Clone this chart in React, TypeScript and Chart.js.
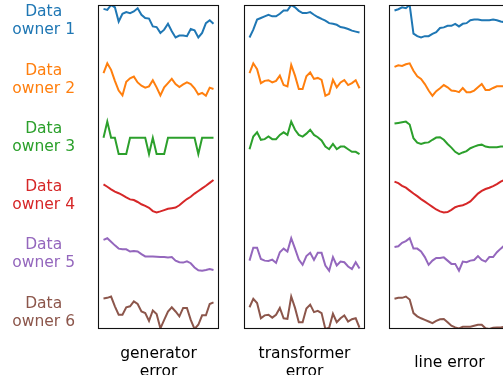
import React, { useEffect, useRef } from "react";
import { Chart, registerables } from "chart.js";

Chart.register(...registerables);

// ---------- data (each series normalised 0..1 inside its row band) ----------
const ownerLabels: string[][] = [
  ["Data", "owner 1"],
  ["Data", "owner 2"],
  ["Data", "owner 3"],
  ["Data", "owner 4"],
  ["Data", "owner 5"],
  ["Data", "owner 6"],
];
const ownerColors = ["#1f77b4", "#ff7f0e", "#2ca02c", "#d62728", "#9467bd", "#8c564b"];
const panelTitles: (string | string[])[] = [["generator", "error"], ["transformer", "error"], "line error"];

// generator error
const genOwner1 = [0.88, 0.85, 1.0, 0.93, 0.49, 0.73, 0.78, 0.75, 0.8, 0.9, 0.7, 0.6, 0.58, 0.34, 0.32, 0.14, 0.24, 0.42, 0.19, 0.0, 0.06, 0.06, 0.04, 0.26, 0.22, 0.0, 0.14, 0.44, 0.53, 0.42];
const genOwner2 = [0.7, 1.0, 0.8, 0.46, 0.16, 0.01, 0.43, 0.54, 0.59, 0.41, 0.31, 0.25, 0.29, 0.48, 0.26, 0.01, 0.26, 0.39, 0.52, 0.36, 0.27, 0.35, 0.41, 0.36, 0.23, 0.04, 0.09, 0.0, 0.25, 0.21];
const genOwner3 = [0.5, 1.0, 0.5, 0.5, 0, 0, 0, 0.5, 0.5, 0.5, 0.5, 0.5, 0, 0.5, 0, 0, 0, 0.5, 0.5, 0.5, 0.5, 0.5, 0.5, 0.5, 0.5, 0, 0.5, 0.5, 0.5, 0.5];
const genOwner4 = [0.86, 0.79, 0.71, 0.64, 0.59, 0.53, 0.46, 0.4, 0.38, 0.32, 0.25, 0.2, 0.14, 0.04, 0.0, 0.03, 0.07, 0.11, 0.13, 0.15, 0.22, 0.32, 0.41, 0.48, 0.58, 0.66, 0.74, 0.82, 0.91, 1.0];
const genOwner5 = [0.95, 1.0, 0.89, 0.78, 0.68, 0.66, 0.66, 0.59, 0.61, 0.59, 0.51, 0.44, 0.44, 0.44, 0.43, 0.42, 0.42, 0.41, 0.42, 0.31, 0.26, 0.25, 0.29, 0.23, 0.1, 0.01, 0.0, 0.02, 0.05, 0.02];
const genOwner6 = [0.94, 0.96, 1.0, 0.7, 0.44, 0.44, 0.67, 0.7, 0.85, 0.77, 0.54, 0.49, 0.25, 0.57, 0.46, 0.02, 0.28, 0.54, 0.67, 0.54, 0.39, 0.65, 0.65, 0.28, 0.0, 0.13, 0.42, 0.42, 0.77, 0.82];

// transformer error (owner 4 has none)
const trOwner1 = [0.0, 0.24, 0.55, 0.6, 0.65, 0.7, 0.65, 0.65, 0.73, 0.83, 0.83, 1.0, 0.93, 0.82, 0.75, 0.75, 0.78, 0.7, 0.63, 0.57, 0.52, 0.44, 0.42, 0.39, 0.32, 0.3, 0.26, 0.21, 0.18, 0.15];
const trOwner2 = [0.7, 1.0, 0.82, 0.39, 0.46, 0.48, 0.41, 0.46, 0.62, 0.33, 0.29, 0.95, 0.62, 0.21, 0.21, 0.6, 0.72, 0.52, 0.55, 0.49, 0.0, 0.06, 0.49, 0.26, 0.41, 0.48, 0.33, 0.39, 0.48, 0.23];
const trOwner3 = [0.15, 0.54, 0.67, 0.44, 0.46, 0.54, 0.46, 0.46, 0.59, 0.67, 0.59, 1.0, 0.75, 0.59, 0.54, 0.63, 0.75, 0.59, 0.52, 0.42, 0.23, 0.15, 0.31, 0.15, 0.23, 0.23, 0.15, 0.07, 0.07, 0.0];
const trOwner4: number[] | null = null;
const trOwner5 = [0.31, 0.71, 0.71, 0.36, 0.31, 0.3, 0.34, 0.24, 0.57, 0.68, 0.59, 1.0, 0.68, 0.34, 0.18, 0.45, 0.55, 0.33, 0.55, 0.55, 0.16, 0.0, 0.42, 0.16, 0.28, 0.26, 0.13, 0.05, 0.26, 0.07];
const trOwner6 = [0.67, 0.93, 0.8, 0.33, 0.42, 0.44, 0.35, 0.44, 0.65, 0.33, 0.31, 1.0, 0.65, 0.21, 0.21, 0.63, 0.75, 0.52, 0.56, 0.49, 0.0, 0.04, 0.47, 0.21, 0.33, 0.42, 0.23, 0.3, 0.33, 0.04];

// line error
const lnOwner1 = [0.83, 0.87, 0.93, 0.9, 1.0, 0.12, 0.04, 0.0, 0.04, 0.04, 0.11, 0.16, 0.29, 0.31, 0.36, 0.36, 0.42, 0.34, 0.42, 0.44, 0.53, 0.55, 0.55, 0.53, 0.53, 0.53, 0.55, 0.53, 0.49, 0.47];
const lnOwner2 = [0.89, 0.94, 0.92, 0.97, 1.0, 0.77, 0.6, 0.52, 0.36, 0.16, 0.0, 0.14, 0.23, 0.33, 0.26, 0.16, 0.15, 0.11, 0.24, 0.11, 0.11, 0.16, 0.26, 0.36, 0.18, 0.18, 0.24, 0.29, 0.29, 0.29];
const lnOwner3 = [0.94, 0.96, 0.98, 1.0, 0.91, 0.49, 0.35, 0.31, 0.35, 0.36, 0.44, 0.51, 0.52, 0.44, 0.31, 0.2, 0.07, 0.0, 0.05, 0.09, 0.18, 0.23, 0.27, 0.29, 0.23, 0.21, 0.21, 0.21, 0.23, 0.23];
const lnOwner4 = [0.95, 0.9, 0.82, 0.76, 0.67, 0.58, 0.5, 0.41, 0.33, 0.25, 0.17, 0.09, 0.03, 0.0, 0.01, 0.08, 0.16, 0.2, 0.22, 0.27, 0.34, 0.46, 0.58, 0.66, 0.72, 0.76, 0.81, 0.87, 0.95, 1.0];
const lnOwner5 = [0.73, 0.75, 0.86, 0.91, 1.0, 0.68, 0.68, 0.59, 0.42, 0.18, 0.31, 0.39, 0.39, 0.41, 0.31, 0.21, 0.21, 0.0, 0.28, 0.26, 0.31, 0.33, 0.45, 0.33, 0.28, 0.42, 0.42, 0.57, 0.68, 0.78];
const lnOwner6 = [0.93, 0.96, 0.96, 1.0, 0.91, 0.49, 0.39, 0.33, 0.28, 0.23, 0.18, 0.25, 0.3, 0.31, 0.21, 0.1, 0.05, 0.02, 0.07, 0.07, 0.07, 0.1, 0.13, 0.13, 0.02, 0.0, 0.04, 0.05, 0.05, 0.07];

const genSeries = [genOwner1, genOwner2, genOwner3, genOwner4, genOwner5, genOwner6];
const trSeries = [trOwner1, trOwner2, trOwner3, trOwner4, trOwner5, trOwner6];
const lnSeries = [lnOwner1, lnOwner2, lnOwner3, lnOwner4, lnOwner5, lnOwner6];

// ---------- layout constants ----------
const ROW_PITCH = 58.4;
const ROW_AMP = 32.5;
const Y_MIN = -(5 * ROW_PITCH + ROW_AMP);
const CANVAS_H = 400;
const FONT = { family: "'DejaVu Sans', sans-serif", size: 15.5, lineHeight: "18px" };

const boxPlugin = {
  id: "panelBox",
  afterDraw(chart: any) {
    const { ctx, chartArea } = chart;
    ctx.save();
    ctx.strokeStyle = "#111";
    ctx.lineWidth = 1.1;
    ctx.strokeRect(chartArea.left + 0.5, chartArea.top + 0.5, chartArea.right - chartArea.left - 1, chartArea.bottom - chartArea.top - 1);
    ctx.restore();
  },
};

type PanelProps = {
  series: (number[] | null)[];
  title: string | string[];
  showLabels: boolean;
  left: number;
  width: number;
  padLeft: number;
  padRight: number;
  titlePad: number;
};

function Panel({ series, title, showLabels, left, width, padLeft, padRight, titlePad }: PanelProps) {
  const ref = useRef<HTMLCanvasElement>(null);
  useEffect(() => {
    if (!ref.current) return;
    const n = (series.find((s) => s) as number[]).length;
    const datasets = series
      .map((vals, k) =>
        vals
          ? {
              data: vals.map((v, i) => ({ x: i, y: -(k * ROW_PITCH) - ROW_AMP + ROW_AMP * v })),
              borderColor: ownerColors[k],
              backgroundColor: ownerColors[k],
              borderWidth: 2,
              pointRadius: 0,
              tension: 0,
              fill: false,
            }
          : null
      )
      .filter(Boolean) as any[];
    const tickVals = ownerLabels.map((_, k) => -(k * ROW_PITCH) - ROW_AMP / 2);
    const chart = new Chart(ref.current, {
      type: "line",
      data: { datasets },
      options: {
        animation: false,
        responsive: false,
        maintainAspectRatio: false,
        layout: { padding: { top: 5, left: padLeft, right: padRight, bottom: 0 } },
        plugins: { legend: { display: false }, tooltip: { enabled: false } },
        scales: {
          x: {
            type: "linear",
            min: -0.05 * (n - 1),
            max: 1.05 * (n - 1),
            grid: { display: false, drawTicks: false },
            border: { display: false },
            ticks: { display: false },
            title: { display: true, text: title, color: "#000", font: FONT as any, padding: { top: 0, bottom: titlePad } },
            afterFit: (s: any) => {
              s.height = 71;
              s.paddingLeft = 0;
              s.paddingRight = 0;
            },
          },
          y: {
            type: "linear",
            min: Y_MIN,
            max: 0,
            display: showLabels,
            grid: { display: false, drawTicks: false },
            border: { display: false },
            afterBuildTicks: (s: any) => {
              s.ticks = tickVals.map((v) => ({ value: v }));
            },
            ticks: {
              autoSkip: false,
              crossAlign: "center",
              padding: 23,
              color: (c: any) => ownerColors[c.index] || "#000",
              font: FONT as any,
              callback: (_v: any, i: number) => ownerLabels[i],
            },
            afterFit: (s: any) => {
              s.width = showLabels ? 98 : 0;
              s.paddingTop = 0;
              s.paddingBottom = 0;
            },
          },
        },
      },
      plugins: [boxPlugin],
    });
    return () => chart.destroy();
  }, []);
  return <canvas ref={ref} width={width} height={CANVAS_H} style={{ position: "absolute", left, top: 0, width, height: CANVAS_H }} />;
}

export default function App() {
  return (
    <div style={{ position: "fixed", left: 0, top: 0, width: 503, height: 375, overflow: "hidden", background: "#fff" }}>
      <Panel series={genSeries} title={panelTitles[0]} showLabels={true} left={0} width={220} padLeft={0} padRight={1} titlePad={19} />
      <Panel series={trSeries} title={panelTitles[1]} showLabels={false} left={240} width={130} padLeft={4} padRight={5} titlePad={19} />
      <Panel series={lnSeries} title={panelTitles[2]} showLabels={false} left={385} width={130} padLeft={4} padRight={5} titlePad={28} />
    </div>
  );
}
